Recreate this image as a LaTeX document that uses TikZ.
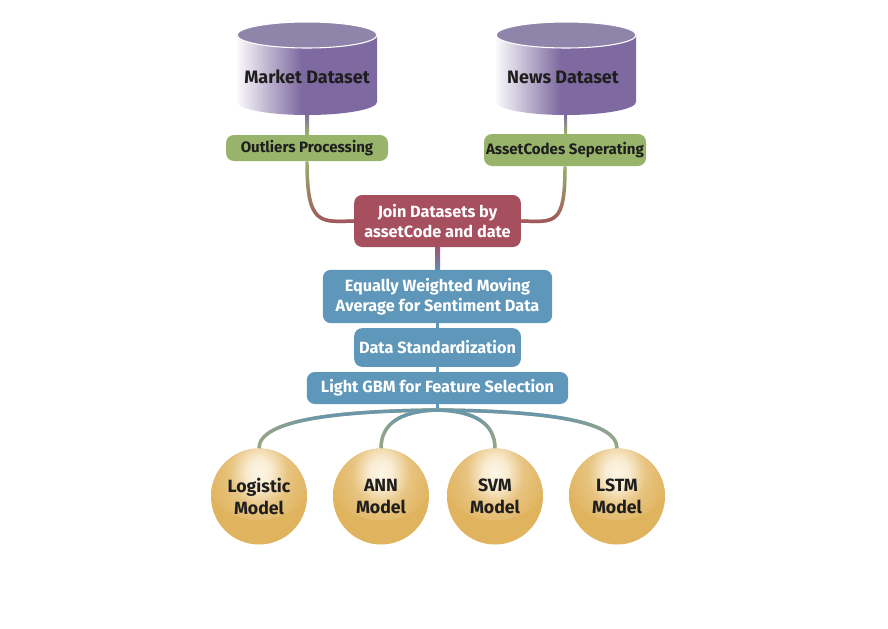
\documentclass[tikz,border=0pt]{standalone}
\usepackage{fontspec}
\setmainfont{Fira Sans}
\usetikzlibrary{fadings,calc}
\definecolor{cpurp}{HTML}{7E6AA0}
\definecolor{cpurptop}{HTML}{8F84AA}
\definecolor{cgrn}{HTML}{98B36A}
\definecolor{crose}{HTML}{A64F5E}
\definecolor{cblu}{HTML}{5E97B9}
\definecolor{cgold}{HTML}{E0B35E}
\definecolor{cgoldlt}{HTML}{FDF6E6}
\definecolor{colive}{HTML}{BDB36C}
\definecolor{cteal}{HTML}{6A97AA}
\definecolor{cdark}{HTML}{1E1E1E}
\pgfdeclarehorizontalshading{cylbody}{100bp}{color(0bp)=(white); color(25bp)=(white!96!cpurp); color(48bp)=(cpurp); color(100bp)=(cpurp)}
\pgfdeclareradialshading{glow}{\pgfpoint{0bp}{0bp}}{color(0bp)=(cgoldlt); color(5bp)=(cgoldlt!85!cgold); color(12bp)=(cgold!75!cgoldlt); color(20bp)=(cgold!95!cgoldlt); color(25bp)=(cgold); color(50bp)=(cgold)}
\pgfdeclarehorizontalshading{fadeEsh}{100bp}{color(0bp)=(black); color(12bp)=(black); color(42bp)=(white); color(100bp)=(white)}
\pgfdeclarehorizontalshading{fadeWsh}{100bp}{color(0bp)=(white); color(58bp)=(white); color(88bp)=(black); color(100bp)=(black)}
\pgfdeclarefading{tealE}{\pgfuseshading{fadeEsh}}
\pgfdeclarefading{tealW}{\pgfuseshading{fadeWsh}}
\tikzset{
  boxbase/.style={rounded corners=6pt, inner sep=0pt, align=center},
  gbox/.style={boxbase, fill=cgrn, text=cdark, font=\bfseries\fontsize{11.3}{14}\selectfont},
  rbox/.style={boxbase, fill=crose, text=white, font=\bfseries\fontsize{12.2}{15}\selectfont},
  bluebox/.style={boxbase, fill=cblu, text=white, font=\bfseries\fontsize{12.2}{15}\selectfont},
  cyltext/.style={font=\bfseries\fontsize{13.5}{16}\selectfont, text=cdark},
  model/.style={circle, minimum size=72pt, inner sep=0pt, fill=cgold, align=center, text=cdark,
    font=\bfseries\fontsize{13.3}{16}\selectfont,
    path picture={\shade[shading=glow] ($(path picture bounding box.north)+(0,12)$) circle (60);}},
  conn/.style={line width=2.6pt},
  bconn/.style={line width=2.3pt, cblu}
}
\begin{document}
\begin{tikzpicture}[x=0.75pt, y=-0.75pt]
\useasboundingbox (0,0) rectangle (888,628);
% cylinders
\shade[shading=cylbody] (237,35) -- (237,102) arc[start angle=180, end angle=0, x radius=70, y radius=13] -- (377,35) -- cycle;
\fill[cpurptop, draw=white, line width=0.8pt] (307,35) ellipse[x radius=70, y radius=13];
\node[cyltext] (market) at (307,77) {Market Dataset};
\coordinate (marketbot) at (307,114);
\shade[shading=cylbody] (496,35) -- (496,102) arc[start angle=180, end angle=0, x radius=70, y radius=13] -- (636,35) -- cycle;
\fill[cpurptop, draw=white, line width=0.8pt] (566,35) ellipse[x radius=70, y radius=13];
\node[cyltext] (news) at (563,77) {News Dataset};
\coordinate (newsbot) at (566,114);
% boxes
\node[gbox, minimum width=121.5pt, minimum height=19.5pt] (outl) at (307,148) {Outliers Processing};
\node[gbox, minimum width=121.5pt, minimum height=24pt] (asset) at (565,150) {AssetCodes Seperating};
\node[rbox, minimum width=125pt, minimum height=39pt] (join) at (437.5,221) {Join Datasets by\\assetCode and date};
\node[bluebox, minimum width=172pt, minimum height=40pt] (ewma) at (437.5,296.5) {Equally Weighted Moving\\Average for Sentiment Data};
\node[bluebox, minimum width=125pt, minimum height=29pt] (dstd) at (437.5,347.5) {Data Standardization};
\node[bluebox, minimum width=196pt, minimum height=24pt] (gbm) at (437.5,388) {Light GBM for Feature Selection};
% models
\node[model] (logit) at (259,496.5) {Logistic\\Model};
\node[model] (ann) at (381,496.5) {ANN\\Model};
\node[model] (svm) at (495,496.5) {SVM\\Model};
\node[model] (lstm) at (617,496.5) {LSTM\\Model};
% vertical connectors
\shade[top color=cpurp, bottom color=cgrn] ($(marketbot)+(-2,0)$) rectangle ($(outl.north)+(2,0)$);
\shade[top color=cpurp, bottom color=cgrn] ($(newsbot)+(-2,0)$) rectangle ($(asset.north)+(2,0)$);
\shade[top color=crose!75!cpurp, bottom color=cblu!70!cpurp] ($(join.south)+(-2.5,0)$) rectangle ($(ewma.north)+(2.5,0)$);
\draw[bconn] (ewma.south) -- (dstd.north);
\draw[bconn] (dstd.south) -- (gbm.north);
\coordinate (br) at (437.5,410);
\draw[bconn] (gbm.south) -- (br);
% upper curves
\draw[conn, cgrn] (outl.south) .. controls ($(outl.south)+(0,64)$) and ($(join.west)+(-34,1)$) .. (join.west);
\draw[conn, crose, path fading=north] (outl.south) .. controls ($(outl.south)+(0,64)$) and ($(join.west)+(-34,1)$) .. (join.west);
\draw[conn, cgrn] (asset.south) .. controls ($(asset.south)+(0,59)$) and ($(join.east)+(34,1)$) .. (join.east);
\draw[conn, crose, path fading=north] (asset.south) .. controls ($(asset.south)+(0,59)$) and ($(join.east)+(34,1)$) .. (join.east);
% lower curves
\draw[conn, colive] (br) .. controls ($(br)+(-97,1)$) and ($(logit.north)+(0,-29)$) .. (logit.north);
\draw[conn, cteal, path fading=tealE] (br) .. controls ($(br)+(-97,1)$) and ($(logit.north)+(0,-29)$) .. (logit.north);
\draw[conn, colive] (br) .. controls ($(br)+(-38,1)$) and ($(ann.north)+(0,-24)$) .. (ann.north);
\draw[conn, cteal, path fading=tealE] (br) .. controls ($(br)+(-38,1)$) and ($(ann.north)+(0,-24)$) .. (ann.north);
\draw[conn, colive] (br) .. controls ($(br)+(38,1)$) and ($(svm.north)+(0,-24)$) .. (svm.north);
\draw[conn, cteal, path fading=tealW] (br) .. controls ($(br)+(38,1)$) and ($(svm.north)+(0,-24)$) .. (svm.north);
\draw[conn, colive] (br) .. controls ($(br)+(100,1)$) and ($(lstm.north)+(0,-29)$) .. (lstm.north);
\draw[conn, cteal, path fading=tealW] (br) .. controls ($(br)+(100,1)$) and ($(lstm.north)+(0,-29)$) .. (lstm.north);
\end{tikzpicture}
\end{document}
